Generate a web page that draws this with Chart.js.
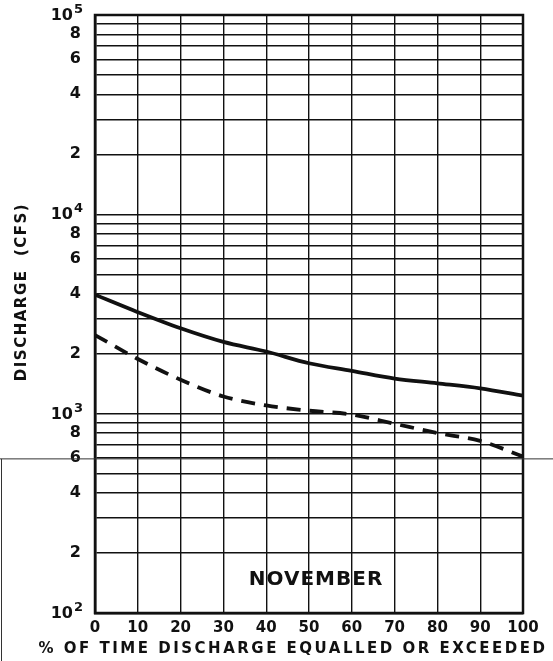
<!DOCTYPE html>
<html>
<head>
<meta charset="utf-8">
<script src="https://cdn.jsdelivr.net/npm/chart.js@4.4.0/dist/chart.umd.min.js"></script>
<style>
  html, body { margin: 0; padding: 0; background: #fff; }
  #wrap { width: 553px; height: 661px; }
</style>
</head>
<body>
<div id="wrap"><canvas id="flowChart"></canvas></div>
<script>
// duration curve
const percentTime = [0, 10, 20, 30, 40, 50, 60, 70, 80, 90, 100];
const upperCurve = [3950, 3230, 2680, 2290, 2050, 1790, 1640, 1500, 1420, 1340, 1230];
const lowerCurve = [2480, 1880, 1480, 1220, 1100, 1035, 990, 890, 800, 730, 610];

const xTickValues = [0, 10, 20, 30, 40, 50, 60, 70, 80, 90, 100];
const yGridValues = [
    100, 200, 300, 400, 500, 600, 700, 800, 900,
    1000, 2000, 3000, 4000, 5000, 6000, 7000, 8000, 9000,
    10000, 20000, 30000, 40000, 50000, 60000, 70000, 80000, 90000,
    100000
];
const yLabelValues = [100, 200, 400, 600, 800, 1000, 2000, 4000, 6000, 8000, 10000, 20000, 40000, 60000, 80000, 100000];
const yLabelText = ['10^2', '2', '4', '6', '8', '10^3', '2', '4', '6', '8', '10^4', '2', '4', '6', '8', '10^5'];

const ink = '#111';
Chart.defaults.font.family = '"DejaVu Sans", sans-serif';
Chart.defaults.color = ink;

const sheetText = {
    id: 'sheetText',
    afterDraw(chart) {
        const { ctx, chartArea } = chart;
        const y = chart.scales.y;
        const mid = (chartArea.left + chartArea.right) / 2;
        ctx.save();
        ctx.fillStyle = ink;

        // decade labels with raised exponent
        ctx.textBaseline = 'alphabetic';
        yLabelText.forEach((t, i) => {
            if (t.indexOf('^') < 0) return;
            const [base, exp] = t.split('^');
            const py = y.getPixelForValue(yLabelValues[i]);
            ctx.textAlign = 'right';
            ctx.font = 'bold 13px "DejaVu Sans"';
            ctx.fillText(exp, chartArea.left - 12, py - 2);
            const ew = ctx.measureText(exp).width;
            ctx.font = 'bold 16px "DejaVu Sans"';
            ctx.fillText(base, chartArea.left - 13 - ew, py + 5);
        });

        // frame
        ctx.strokeStyle = ink;
        ctx.lineWidth = 2.5;
        ctx.strokeRect(chartArea.left, chartArea.top, chartArea.right - chartArea.left, chartArea.bottom - chartArea.top);

        ctx.textAlign = 'center';
        ctx.textBaseline = 'middle';
        ctx.font = 'bold 20px "DejaVu Sans"';
        ctx.letterSpacing = '1px';
        ctx.fillText('NOVEMBER', mid + 7, chartArea.bottom - 33);

        ctx.font = 'bold 15px "DejaVu Sans"';
        ctx.letterSpacing = '2.5px';
        ctx.fillText('% OF TIME DISCHARGE EQUALLED OR EXCEEDED', mid - 16, chartArea.bottom + 36);

        ctx.translate(chartArea.left - 73, (chartArea.top + chartArea.bottom) / 2 - 22);
        ctx.rotate(-Math.PI / 2);
        ctx.letterSpacing = '1.5px';
        ctx.fillText('DISCHARGE  (CFS)', 0, 0);
        ctx.restore();

        // stray line from the scanned page
        const py = y.getPixelForValue(600) + 1;
        ctx.save();
        ctx.strokeStyle = '#333';
        ctx.lineWidth = 1;
        ctx.beginPath();
        ctx.moveTo(0, py);
        ctx.lineTo(chart.width, py);
        ctx.moveTo(1.5, py);
        ctx.lineTo(1.5, chart.height);
        ctx.stroke();
        ctx.restore();
    }
};

new Chart(document.getElementById('flowChart'), {
    type: 'line',
    data: {
        datasets: [
            {
                label: 'upper',
                data: percentTime.map((p, i) => ({ x: p, y: upperCurve[i] })),
                borderColor: ink,
                borderWidth: 3.8,
                pointRadius: 0,
                cubicInterpolationMode: 'monotone'
            },
            {
                label: 'lower',
                data: percentTime.map((p, i) => ({ x: p, y: lowerCurve[i] })),
                borderColor: ink,
                borderWidth: 3.8,
                borderDash: [14, 9],
                pointRadius: 0,
                cubicInterpolationMode: 'monotone'
            }
        ]
    },
    options: {
        responsive: true,
        maintainAspectRatio: false,
        animation: false,
        layout: { padding: { top: 15, right: 30, left: 0, bottom: 0 } },
        plugins: { legend: { display: false }, tooltip: { enabled: false } },
        scales: {
            x: {
                type: 'linear',
                min: 0,
                max: 100,
                afterBuildTicks: (axis) => { axis.ticks = xTickValues.map(v => ({ value: v })); },
                afterFit: (axis) => { axis.height = 48; },
                ticks: {
                    padding: 6,
                    font: { size: 15, weight: 'bold' },
                    color: ink,
                    maxRotation: 0
                },
                grid: { color: ink, lineWidth: 1.4, drawTicks: false },
                border: { color: ink, width: 2.5 }
            },
            y: {
                type: 'logarithmic',
                min: 100,
                max: 100000,
                afterBuildTicks: (axis) => { axis.ticks = yGridValues.map(v => ({ value: v })); },
                afterFit: (axis) => {
                    axis.width = 95;
                    axis.paddingTop = 0;
                    axis.paddingBottom = 0;
                },
                ticks: {
                    padding: 14,
                    autoSkip: false,
                    font: { size: 16, weight: 'bold' },
                    color: ink,
                    callback: (v) => {
                        const i = yLabelValues.indexOf(v);
                        return i >= 0 && yLabelText[i].indexOf('^') < 0 ? yLabelText[i] : '';
                    }
                },
                grid: { color: ink, lineWidth: 1.4, drawTicks: false },
                border: { color: ink, width: 2.5 }
            }
        }
    },
    plugins: [sheetText]
});
</script>
</body>
</html>
